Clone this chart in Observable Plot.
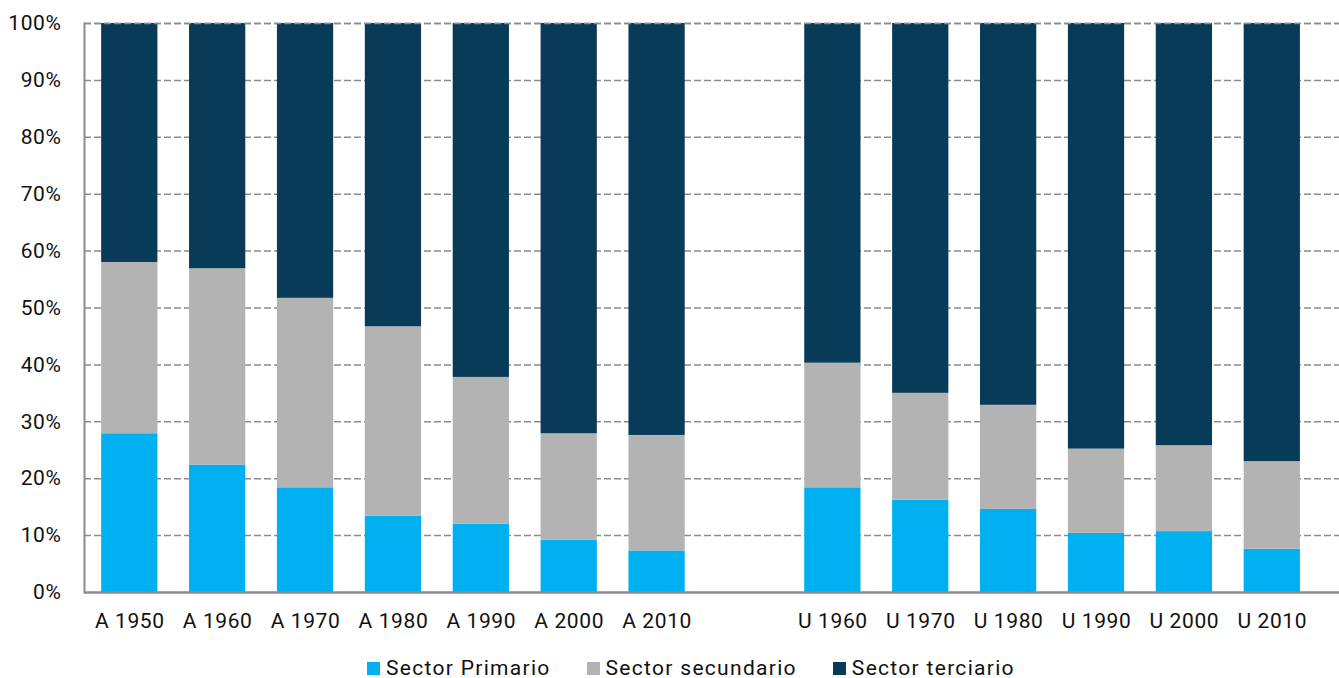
<!DOCTYPE html>
<html>
<head>
<meta charset="utf-8">
<script src="https://cdn.jsdelivr.net/npm/d3@7"></script>
<script src="https://cdn.jsdelivr.net/npm/@observablehq/plot@0.6"></script>
<style>
  html, body { margin: 0; padding: 0; background: #fff; overflow: hidden; }
  #chart svg { display: block; }
  #chart svg text { letter-spacing: 0.6px; }
  .legend { display: flex; gap: 36px; margin-left: 367px; margin-top: 8px;
            font-family: Roboto, sans-serif; font-size: 21px; color: #111; letter-spacing: 1.3px; }
  .legend .item { display: flex; align-items: center; gap: 6px; }
  .legend .sw { width: 13px; height: 13px; display: inline-block; }
</style>
</head>
<body>
<div id="chart"></div>
<script>
const categories = ["A 1950","A 1960","A 1970","A 1980","A 1990","A 2000","A 2010",
                    "U 1960","U 1970","U 1980","U 1990","U 2000","U 2010"];
const primario   = [27.9, 22.4, 18.4, 13.4, 12.0, 9.2, 7.3, 18.4, 16.2, 14.6, 10.4, 10.7, 7.6];
const secundario = [30.1, 34.5, 33.3, 33.3, 25.8, 18.7, 20.3, 21.9, 18.8, 18.3, 14.8, 15.1, 15.4];
const terciario  = [42.0, 43.1, 48.3, 53.3, 62.2, 72.1, 72.4, 59.7, 65.0, 67.1, 74.8, 74.2, 77.0];
const seriesNames = ["Sector Primario", "Sector secundario", "Sector terciario"];
const seriesColors = ["#00B0F0", "#B3B3B3", "#073B57"];
const yTicks = [0, 10, 20, 30, 40, 50, 60, 70, 80, 90, 100];
const spacer = " ";

const xDomain = [...categories.slice(0, 7), spacer, ...categories.slice(7)];
const seriesValues = [primario, secundario, terciario];
const data = [];
seriesNames.forEach((s, si) => {
  categories.forEach((c, i) => data.push({cat: c, series: s, value: seriesValues[si][i]}));
});

const chart = Plot.plot({
  width: 1339,
  height: 648,
  marginLeft: 84,
  marginRight: 0,
  marginTop: 23,
  marginBottom: 56,
  style: {fontFamily: "Roboto, sans-serif", fontSize: "21px", color: "#111", background: "#fff"},
  x: {domain: xDomain, paddingInner: 0.36, paddingOuter: 0.32, align: 0.305, round: false, label: null},
  y: {domain: [0, 100], label: null},
  color: {domain: seriesNames, range: seriesColors},
  marks: [
    Plot.ruleY(yTicks.filter(d => d > 0), {y: d => d, stroke: "#8c8c8c", strokeWidth: 1.5, strokeDasharray: "7,3"}),
    Plot.barY(data, {x: "cat", y: "value", fill: "series"}),
    Plot.ruleY(yTicks.filter(d => d === 100), {y: d => d, stroke: "#8c8c8c", strokeWidth: 1.5, strokeDasharray: "7,3"}),
    Plot.axisY({ticks: yTicks, tickFormat: d => d + "%", tickSize: 0, tickPadding: 23, fontSize: 21, fontWeight: 400, label: null}),
    Plot.axisX({tickSize: 0, tickPadding: 21, fontSize: 21, fontWeight: 400, label: null}),
    Plot.frame({anchor: "left", stroke: "#8c8c8c", strokeWidth: 2}),
    Plot.ruleY([0], {stroke: "#8c8c8c", strokeWidth: 2.5})
  ]
});
document.getElementById("chart").appendChild(chart);

const legend = document.createElement("div");
legend.className = "legend";
seriesNames.forEach((s, i) => {
  const item = document.createElement("div");
  item.className = "item";
  const sw = document.createElement("span");
  sw.className = "sw";
  sw.style.background = seriesColors[i];
  const t = document.createElement("span");
  t.textContent = s;
  item.appendChild(sw);
  item.appendChild(t);
  legend.appendChild(item);
});
document.getElementById("chart").appendChild(legend);
</script>
</body>
</html>
